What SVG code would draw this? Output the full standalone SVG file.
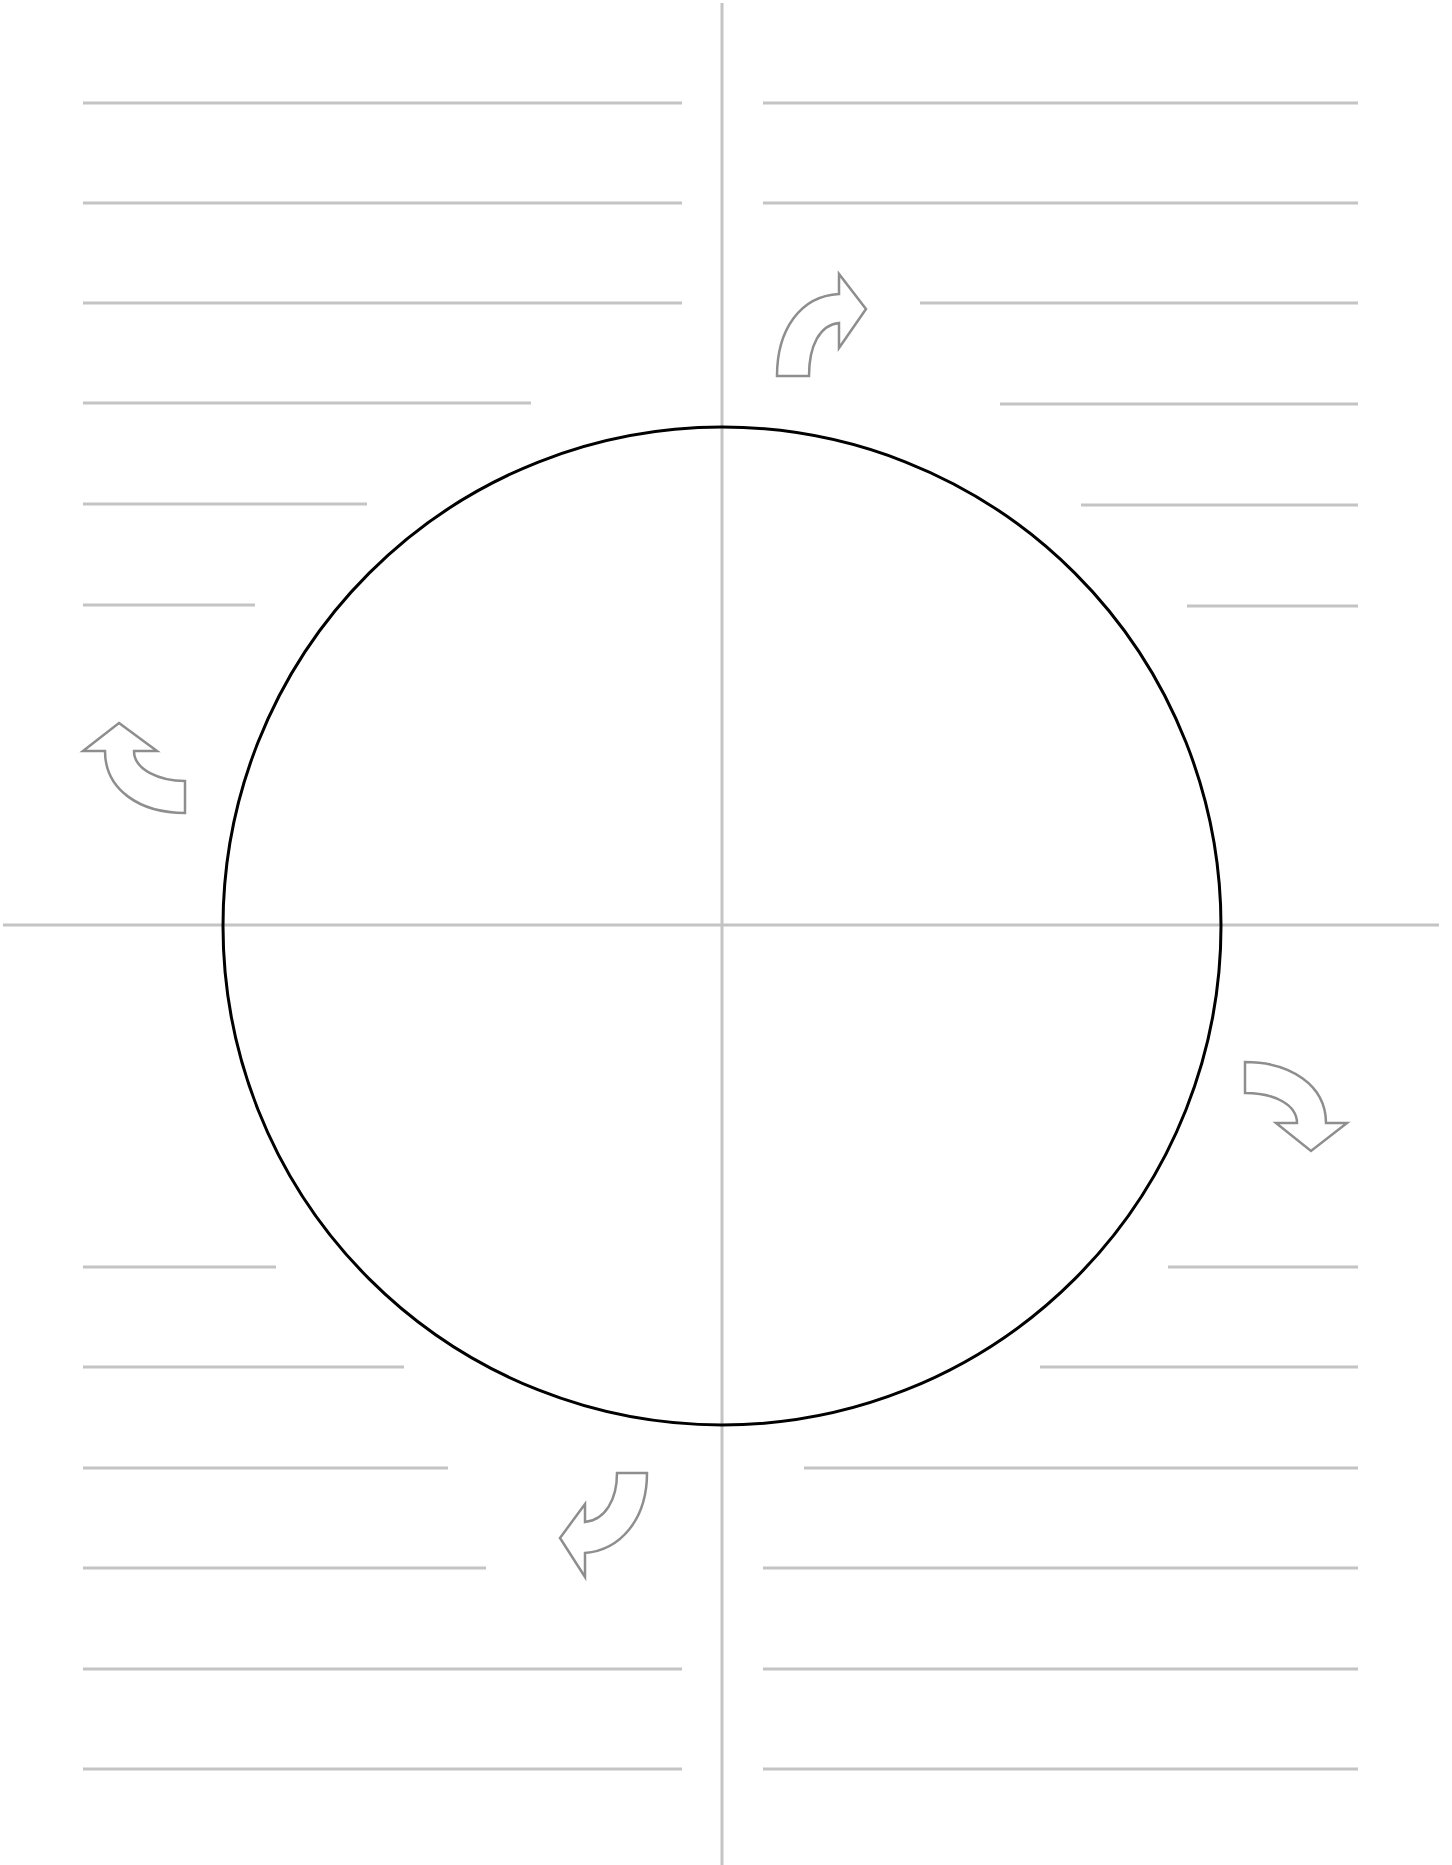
<svg xmlns="http://www.w3.org/2000/svg" width="1452" height="1865" viewBox="0 0 1452 1865">
<style>
.rule{stroke:#c4c4c4;stroke-width:3;fill:none}
.axis{stroke:#c4c4c4;stroke-width:3;fill:none}
.arrow{fill:#ffffff;stroke:#8e8e8e;stroke-width:2.5;stroke-linejoin:miter}
</style>
<rect width="1452" height="1865" fill="#ffffff"/>
<g id="axes">
<line class="axis" x1="722" y1="3" x2="722" y2="1865"/>
<line class="axis" x1="3" y1="925" x2="1439" y2="925"/>
</g>
<g id="circle">
<circle cx="722" cy="926" r="499" fill="none" stroke="#000" stroke-width="3"/>
</g>
<g id="lines-top-left">
<line class="rule" x1="83" y1="103" x2="682" y2="103"/>
<line class="rule" x1="83" y1="203" x2="682" y2="203"/>
<line class="rule" x1="83" y1="303" x2="682" y2="303"/>
<line class="rule" x1="83" y1="403" x2="531" y2="403"/>
<line class="rule" x1="83" y1="504" x2="367" y2="504"/>
<line class="rule" x1="83" y1="605" x2="255" y2="605"/>
</g>
<g id="lines-top-right">
<line class="rule" x1="763" y1="103" x2="1358" y2="103"/>
<line class="rule" x1="763" y1="203" x2="1358" y2="203"/>
<line class="rule" x1="920" y1="303" x2="1358" y2="303"/>
<line class="rule" x1="1000" y1="404" x2="1358" y2="404"/>
<line class="rule" x1="1081" y1="505" x2="1358" y2="505"/>
<line class="rule" x1="1187" y1="606" x2="1358" y2="606"/>
</g>
<g id="lines-bottom-left">
<line class="rule" x1="83" y1="1267" x2="276" y2="1267"/>
<line class="rule" x1="83" y1="1367" x2="404" y2="1367"/>
<line class="rule" x1="83" y1="1468" x2="448" y2="1468"/>
<line class="rule" x1="83" y1="1568" x2="486" y2="1568"/>
<line class="rule" x1="83" y1="1669" x2="682" y2="1669"/>
<line class="rule" x1="83" y1="1769" x2="682" y2="1769"/>
</g>
<g id="lines-bottom-right">
<line class="rule" x1="1168" y1="1267" x2="1358" y2="1267"/>
<line class="rule" x1="1040" y1="1367" x2="1358" y2="1367"/>
<line class="rule" x1="804" y1="1468" x2="1358" y2="1468"/>
<line class="rule" x1="763" y1="1568" x2="1358" y2="1568"/>
<line class="rule" x1="763" y1="1669" x2="1358" y2="1669"/>
<line class="rule" x1="763" y1="1769" x2="1358" y2="1769"/>
</g>
<g id="arrows">
<path id="arrow-top" class="arrow" d="M777,376 C777,330 800,296 839,294 L839,274 L866,309 L839,348 L839,323 C820,325 809,345 809,376 Z"/>
<path id="arrow-right" class="arrow" d="M1245,1062 C1290,1062 1326,1085 1326,1123 L1347,1123 L1311,1151 L1276,1123 L1297,1123 C1297,1105 1275,1093 1245,1093 Z"/>
<path id="arrow-bottom" class="arrow" d="M647,1473 C647,1520 620,1550 585,1553 L585,1577 L560,1538 L585,1504 L585,1522 C605,1520 617,1500 617,1473 Z"/>
<path id="arrow-left" class="arrow" d="M119,723 L157,751 L134,751 C134,770 160,781 185,781 L185,813 C140,813 105,790 105,751 L83,751 Z"/>
</g>
</svg>
